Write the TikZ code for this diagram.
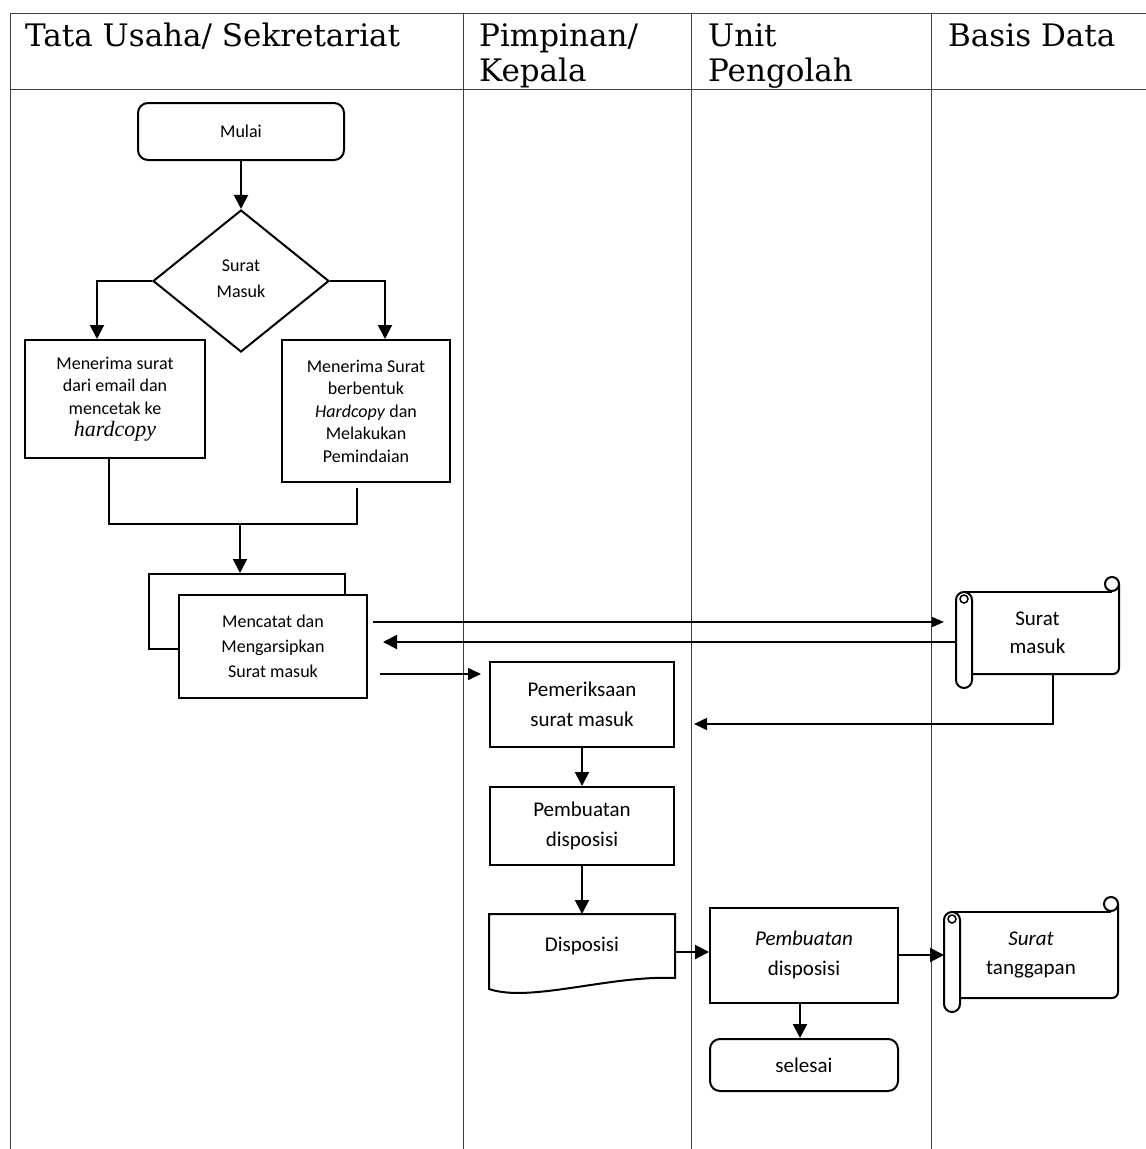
\documentclass[tikz,border=0pt]{standalone}
\usepackage{fontspec}
\setmainfont{Carlito}
\newfontfamily\hdrfont{DejaVu Serif}
\newfontfamily\tnrfont{Liberation Serif}
\usetikzlibrary{shapes.geometric,arrows.meta,calc}
\newcommand\smfnt{\fontsize{18}{22.5}\selectfont}
\newcommand\mdfnt{\fontsize{21}{29.5}\selectfont}
\begin{document}
\begin{tikzpicture}[x=1pt,y=-1pt,
  lane/.style={line width=1pt,draw=black!75},
  hdr/.style={font=\hdrfont\fontsize{31}{35}\selectfont, anchor=north west, inner sep=0pt, align=left},
  box/.style={draw, line width=2pt, inner sep=0pt, align=center, fill=white},
  term/.style={box, rounded corners=10pt},
  dec/.style={box, shape=diamond},
  conn/.style={line width=2pt},
  arr/.style={line width=2pt, -{Triangle[width=14pt,length=14pt]}},
  marr/.style={line width=1.5pt, -{Triangle[width=12pt,length=13pt]}},
  tarr/.style={line width=1.1pt, -{Triangle[width=10pt,length=12pt]}},
  outl/.style={line width=2pt},
]
\fill[white] (0,0) rectangle (1146,1149);
\useasboundingbox (0,0) rectangle (1146,1149);

% table
\draw[lane] (10,13) -- (1146,13);
\draw[lane] (10,89) -- (1146,89);
\draw[lane] (10,13) -- (10,1149);
\draw[lane] (463,13) -- (463,1149);
\draw[lane] (691,13) -- (691,1149);
\draw[lane] (931,13) -- (931,1149);

\node[hdr] (h1) at (25,23) {Tata Usaha/ Sekretariat};
\node[hdr] (h2) at (479,23) {Pimpinan/\\Kepala};
\node[hdr] (h3) at (708,23) {Unit\\Pengolah};
\node[hdr] (h4) at (948,23) {Basis Data};

% Tata Usaha lane
\node[term, minimum width=206pt, minimum height=57pt, font=\smfnt] (mulai) at (241,131.5) {Mulai};
\node[dec, minimum width=176pt, minimum height=142pt, font=\fontsize{18}{26}\selectfont] (dia) at (241,281) {\raisebox{4pt}{Surat}\\\raisebox{4pt}{Masuk}};
\node[box, minimum width=180pt, minimum height=118pt, font=\smfnt] (lb) at (115,399)
  {Menerima surat\\dari email dan\\mencetak ke\\{\tnrfont\itshape\fontsize{22}{22}\selectfont hardcopy}};
\node[box, minimum width=168pt, minimum height=142pt, font=\smfnt] (rb) at (366,411)
  {Menerima Surat\\berbentuk\\\textit{Hardcopy} dan\\Melakukan\\Pemindaian};
\node[box, minimum width=196pt, minimum height=75pt] (mcb) at (247,611.5) {};
\node[box, minimum width=188pt, minimum height=103pt, font=\fontsize{18}{25}\selectfont] (mc) at (273,646.5)
  {Mencatat dan\\Mengarsipkan\\Surat masuk};

% Pimpinan lane
\node[box, minimum width=184pt, minimum height=85pt, font=\mdfnt] (pem) at (582,704.5) {Pemeriksaan\\surat masuk};
\node[box, minimum width=184pt, minimum height=78pt, font=\mdfnt] (pd) at (582,826) {Pembuatan\\disposisi};
\node[box, draw=none, fill=none, minimum width=184pt, minimum height=62pt, font=\mdfnt] (disp) at (582,946) {Disposisi};
\draw[outl] (disp.south west) -- (disp.north west) -- (disp.north east) -- (disp.south east)
  .. controls (610,975) and (530,1003) .. ($(disp.south west)+(0,11)$) -- cycle;

% Unit Pengolah lane
\node[box, minimum width=188pt, minimum height=95pt, font=\mdfnt] (ub) at (804,955) {\textit{Pembuatan}\\disposisi};
\node[term, minimum width=188pt, minimum height=52pt, font=\mdfnt] (sel) at (804,1065) {selesai};

% Basis Data lane (scrolls)
\node[box, draw=none, fill=none, minimum width=161pt, minimum height=80pt, font=\fontsize{21}{28}\selectfont] (sm) at (1037.5,633) {Surat\\masuk};
\node[box, draw=none, fill=none, minimum width=172pt, minimum height=84pt, font=\mdfnt] (st) at (1031,955) {\textit{Surat}\\tanggapan};

\foreach \n in {sm,st}{
  % body
  \draw[outl, rounded corners=6pt] ($(\n.north east)+(0,-8)$) -- (\n.south east) -- ($(\n.south west)+(16,0)$);
  \draw[outl] ($(\n.north west)+(8,0)$) -- ($(\n.north east)+(-7,0)$);
  % top right curl
  \draw[outl] ($(\n.north east)+(-7,-8)$) circle[radius=7pt];
  % left roll
  \draw[outl, rounded corners=8pt, fill=white] (\n.north west) rectangle ($(\n.south west)+(16,14)$);
  \draw[line width=1.5pt] ($(\n.north west)+(8,7)$) circle[radius=4pt];
}

% connectors
\draw[arr] (mulai) -- (dia);
\draw[arr] (dia.west) -| ([xshift=-18pt]lb.north);
\draw[arr] (dia.east) -| ([xshift=19pt]rb.north);
\draw[conn] ([xshift=-6pt]lb.south) |- ($(rb.south)+(-9,41)$) -- ($(rb.south)+(-9,5)$);
\coordinate (mj) at (240,523);
\draw[arr] (mj) -- (mj |- mcb.north);

\draw[tarr] ($(mc.east)+(5,-24.5)$) -- ($(sm.west)+(-12,-11)$);
\draw[arr] ($(sm.west)+(0,9)$) -- ($(mc.east)+(15,-4.5)$);
\draw[marr] ($(mc.east)+(12,27.5)$) -- ($(pem.west)+(-8,-30.5)$);
\draw[marr] ($(sm.south)+(15.5,0)$) |- ($(pem.east)+(19,19.5)$);

\draw[arr] (pem) -- (pd);
\draw[arr] (pd) -- (disp.north);
\draw[arr] ($(disp.east)+(0,6)$) -- (ub.west |- {$(disp.east)+(0,6)$});
\draw[arr] (ub.east) -- (ub.east -| st.west);
\draw[arr] ([xshift=-4pt]ub.south) -- ([xshift=-4pt]sel.north);
\end{tikzpicture}
\end{document}
